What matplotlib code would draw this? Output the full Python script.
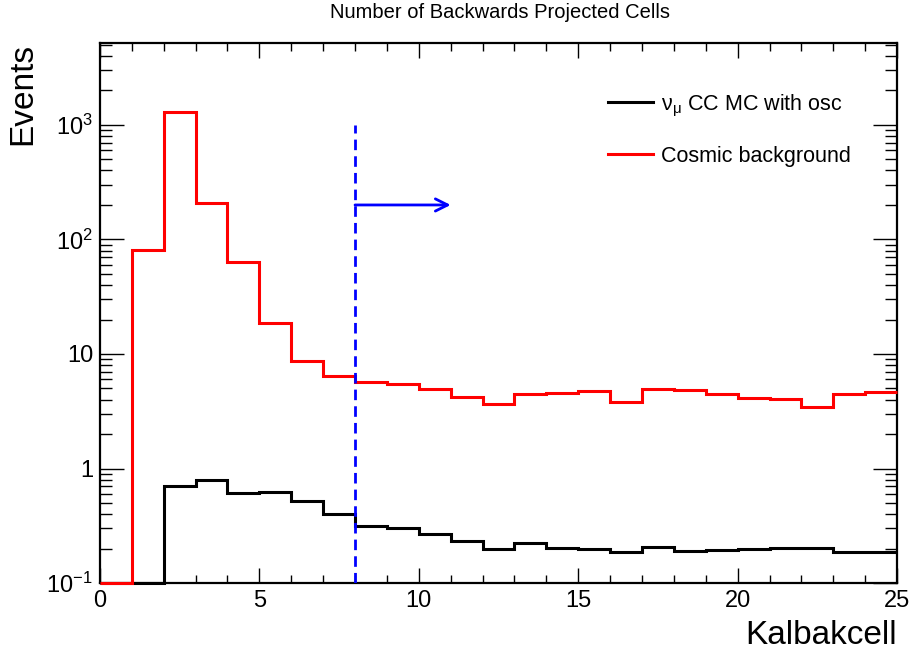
import numpy as np
import matplotlib
matplotlib.use("Agg")
import matplotlib.pyplot as plt
from matplotlib.ticker import FixedLocator, FixedFormatter, MultipleLocator

plt.rcParams["font.family"] = ["Liberation Sans", "DejaVu Sans"]
plt.rcParams["mathtext.fontset"] = "custom"
plt.rcParams["mathtext.rm"] = "Liberation Sans"
plt.rcParams["mathtext.it"] = "Liberation Sans:italic"

# Kalbakcell histograms, one entry per unit bin from 0 to 25
bin_edges = np.arange(0, 26)
numu_cc = [0, 0, 0.71, 0.79, 0.61, 0.62, 0.52, 0.40, 0.315, 0.304,
           0.27, 0.233, 0.20, 0.225, 0.202, 0.197, 0.187, 0.206, 0.19, 0.194,
           0.198, 0.201, 0.201, 0.185, 0.187]
cosmic = [0, 81, 1300, 209, 63.5, 18.7, 8.7, 6.4, 5.73, 5.47,
          4.92, 4.19, 3.64, 4.48, 4.56, 4.78, 3.83, 4.95, 4.85, 4.50,
          4.10, 4.02, 3.47, 4.48, 4.69]

cut_value = 8
cut_line_top = 1000
arrow_end = 11
arrow_level = 200

ymin, ymax = 0.1, 5200

fig = plt.figure(figsize=(9.12, 6.5), dpi=100)
ax = fig.add_axes([0.1096, 0.103, 0.874, 0.831])

# empty bins sit on the lower edge like in ROOT
ax.stairs(np.maximum(numu_cc, ymin), bin_edges, color="black", lw=2.2,
          label=r"ν$_{\mathrm{μ}}$ CC MC with osc", baseline=None,
          clip_on=False, zorder=3)
ax.stairs(np.maximum(cosmic, ymin), bin_edges, color="red", lw=2.2,
          label="Cosmic background", baseline=None, clip_on=False, zorder=3)

ax.plot([cut_value, cut_value], [ymin, cut_line_top], color="blue", lw=2,
        ls=(0, (3.8, 2.2)), zorder=4)
ax.annotate("", xy=(arrow_end, arrow_level), xytext=(cut_value, arrow_level),
            arrowprops=dict(arrowstyle="->", color="blue", lw=2,
                            mutation_scale=22, shrinkA=0, shrinkB=0))

ax.set_yscale("log")
ax.set_xlim(0, 25)
ax.set_ylim(ymin, ymax)

ax.xaxis.set_major_locator(MultipleLocator(5))
ax.xaxis.set_minor_locator(MultipleLocator(1))
ax.yaxis.set_major_locator(FixedLocator([0.1, 1, 10, 100, 1000]))
ax.yaxis.set_major_formatter(FixedFormatter(
    [r"$10^{-1}$", "1", "10", r"$10^{2}$", r"$10^{3}$"]))
minor_y = [m * 10.0 ** e for e in range(-1, 4) for m in range(2, 10)]
ax.yaxis.set_minor_locator(FixedLocator([v for v in minor_y if v < ymax]))
ax.yaxis.set_minor_formatter(FixedFormatter([]))

ax.tick_params(which="both", direction="in", top=True, right=True,
               labelsize=17, width=1)
ax.tick_params(axis="x", which="major", length=11, pad=5)
ax.tick_params(axis="x", which="minor", length=6)
ax.tick_params(axis="y", which="major", length=17, pad=5)
ax.tick_params(axis="y", which="minor", length=8.5)
for s in ax.spines.values():
    s.set_linewidth(1.6)
    s.set_zorder(2.5)

ax.set_xlabel("Kalbakcell", fontsize=24, loc="right")
ax.xaxis.set_label_coords(1.0, -0.068)
ax.set_ylabel("Events", fontsize=24, loc="top")
ax.yaxis.set_label_coords(-0.077, 1.0)
fig.text(0.548, 0.995, "Number of Backwards Projected Cells", fontsize=14.5,
         ha="center", va="top")

ax.legend(loc="upper left", bbox_to_anchor=(0.613, 0.944), frameon=False,
          fontsize=15.5, handlelength=2.1, handletextpad=0.37,
          labelspacing=1.27)

fig.savefig("out.png", dpi=100)
